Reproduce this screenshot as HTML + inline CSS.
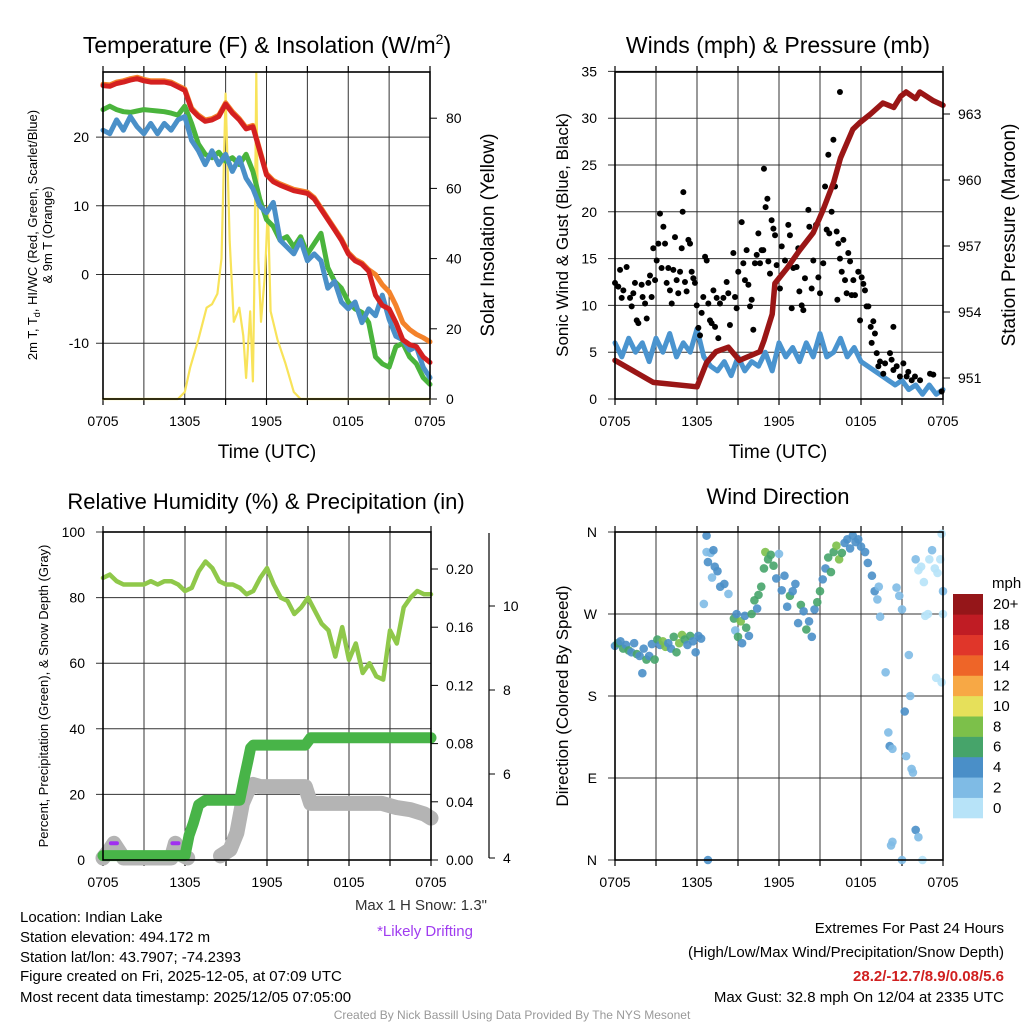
<!DOCTYPE html>
<html><head><meta charset="utf-8"><style>
html,body{margin:0;padding:0;background:#fff}
svg{display:block;font-family:"Liberation Sans",Arial,sans-serif}
</style></head><body>
<svg id="chart" width="1024" height="1024" viewBox="0 0 1024 1024" xmlns="http://www.w3.org/2000/svg">
<g id="layer"></g>
<g font-size="15" fill="#000">
<text x="20" y="922">Location: Indian Lake</text>
<text x="20" y="942">Station elevation: 494.172 m</text>
<text x="20" y="962">Station lat/lon: 43.7907; -74.2393</text>
<text x="20" y="981">Figure created on Fri, 2025-12-05, at 07:09 UTC</text>
<text x="20" y="1002">Most recent data timestamp: 2025/12/05 07:05:00</text>
<text x="487" y="910" text-anchor="end" fill="#333">Max 1 H Snow: 1.3"</text>
<text x="425" y="936" text-anchor="middle" fill="#a03cf0">*Likely Drifting</text>
<text x="1004" y="933" text-anchor="end">Extremes For Past 24 Hours</text>
<text x="1004" y="957" text-anchor="end">(High/Low/Max Wind/Precipitation/Snow Depth)</text>
<text x="1004" y="981" text-anchor="end" fill="#d02020" font-weight="bold">28.2/-12.7/8.9/0.08/5.6</text>
<text x="1004" y="1002" text-anchor="end">Max Gust: 32.8 mph On 12/04 at 2335 UTC</text>
<text x="512" y="1019" text-anchor="middle" fill="#999" font-size="12">Created By Nick Bassill Using Data Provided By The NYS Mesonet</text>
</g>
</svg>
<script>
// ---------- data ----------
const xTickHours=[0,6,12,18,24];
const xTickLabels=["0705","1305","1905","0105","0705"];
const tempRed=[27.5,27.4,27.8,28,28.3,28.5,28.2,28,28,28,27.8,27.3,26.8,24,23,22.3,22.5,23,24.8,23.5,22.5,21.2,21.5,18,14.5,13.5,13,12.6,12.2,12,11.8,11,9.5,8,6.5,5,3,2,1.5,0.5,-3,-4.5,-5,-7,-9.5,-10.2,-10.5,-12,-12.8];
const tempOrange=[27.7,27.6,28,28.2,28.5,28.7,28.4,28.2,28.2,28.2,28,27.5,27,24.2,23.2,22.5,22.7,23.2,25,23.7,22.7,21.4,21.7,18.2,14.7,13.7,13.2,12.8,12.4,12.2,12,11.2,9.7,8.2,6.7,5.2,3.2,2.2,1.7,0.7,0,-1.5,-2.5,-4.5,-7,-8,-8.7,-9.2,-9.8];
const tempGreen=[24,24.5,24,23.7,23.6,23.8,24,23.9,23.8,23.7,23.5,23.2,24.5,22,19,17.5,17,17.8,16.5,17,16,17.5,15,11,8,7,5,5.5,4,5.5,3,4.5,6,1,-1,-2,-4,-5,-5.5,-7,-12,-13,-13.5,-10.5,-10,-12,-13,-15,-16];
const tempBlue=[21,20.5,22.5,21,23,21.5,20.5,22,20.5,22,21,22.5,23,19.5,18,16,18,16,17.5,15,17,14,12.5,10,9,10.5,5,4,3,5,2,3,2,-2,-1,-4,-5,-4,-7,-5,-6,-3,-6.5,-9,-9.5,-11,-10.5,-13.5,-15];
const solarHours=[0,5.5,6.0,6.4,7.0,7.6,8.0,8.4,8.7,9.0,9.3,9.6,10.0,10.3,10.5,10.8,11.0,11.1,11.25,11.4,11.6,11.9,12.1,12.3,12.8,13.4,14.0,14.5,24];
const solarValues=[0,0,2,9,17,26,27,30,40,87,45,22,26,18,6,25,5,30,93,40,22,36,55,25,17,10,2,0,0];
const sonicWind=[6,4.5,6.5,5,6,4,6.5,5,7,4.5,6,5,7.5,4.5,3.5,3,4,2.5,4.5,3,4,3.5,5,3,6,4.5,5.5,4,6,4.5,7,4.5,5,6.5,4.5,5.5,4,3.5,3,2.5,2,1.5,2,1,1.5,0.5,1.5,0.5,1];
const pressureHours=[0,2.8,6.0,6.7,7.4,8.3,9.1,10.6,10.9,11.5,11.7,12.6,13.5,14.5,15.2,16.0,16.5,17.4,17.9,18.7,19.6,20.4,20.9,21.3,22.0,22.3,23.3,24];
const pressureValues=[951.8,950.8,950.6,951.7,952.2,952.4,951.8,952.2,952.7,953.9,955.3,956.0,956.8,957.6,958.6,959.9,961.0,962.3,962.6,963.0,963.5,963.3,963.8,964.0,963.7,964.0,963.6,963.4];
const gustHours=[0,.24,.37,.61,.49,.85,1.1,1.22,1.34,1.46,1.59,1.71,1.95,2.02,2.2,2.32,2.44,2.56,2.68,2.8,2.93,3.05,3.17,3.29,3.41,3.54,3.66,3.78,3.9,4.02,4.15,4.27,4.39,4.51,4.63,4.76,4.88,4.95,5.0,5.12,5.24,5.37,5.49,5.61,5.73,5.85,5.98,6.1,6.22,6.34,6.46,6.59,6.71,6.83,6.95,7.07,7.2,7.32,7.44,7.56,7.68,7.93,8.17,8.29,8.41,8.66,8.78,8.9,9.02,9.27,9.39,9.51,9.63,9.76,9.88,10.0,10.12,10.24,10.37,10.49,10.61,10.73,10.85,10.9,11.02,11.15,11.22,11.34,11.46,11.59,11.71,11.83,12.07,12.2,12.44,12.68,12.8,12.93,13.05,13.29,13.41,13.49,13.66,13.78,13.9,14.15,14.22,14.39,14.51,14.71,14.88,15.0,15.24,15.37,15.49,15.61,15.68,15.85,15.98,16.1,16.22,16.27,16.34,16.46,16.46,16.59,16.71,16.83,16.95,17.07,17.2,17.32,17.44,17.56,17.8,17.93,18.05,18.17,18.29,18.41,18.54,18.71,18.78,18.9,19.02,19.15,19.27,19.39,19.63,19.76,20.12,20.24,20.37,20.37,20.61,20.85,21.1,21.34,21.46,21.71,21.95,22.32,23.05,23.29,23.9];
const gustValues=[12.4,12.0,13.8,11.6,10.8,14.1,10.8,9.9,11.3,12.4,8.4,8.1,12.2,10.9,10.2,8.6,12.4,13.2,10.9,16.1,12.7,14.8,16.6,19.8,14.0,18.4,16.6,12.4,14.0,11.6,10.2,13.8,17.3,12.7,11.3,13.6,16.1,20.0,22.1,12.5,11.5,17.0,16.6,13.6,12.9,12.4,10.0,7.6,6.8,9.2,10.9,15.2,14.8,10.2,8.4,8.1,11.6,7.7,10.8,6.5,10.2,10.8,12.5,11.3,7.9,15.6,10.9,9.7,13.6,18.9,14.5,12.7,15.9,12.2,9.9,10.6,7.4,14.5,15.4,17.7,14.5,15.9,15.9,24.6,20.5,21.4,14.7,13.4,19.1,18.2,17.5,14.3,11.8,16.3,14.8,18.6,17.5,9.7,14.0,14.1,16.1,11.5,10.0,9.5,12.9,20.2,18.4,11.8,14.8,18.6,13.0,11.3,14.5,22.7,18.1,26.1,17.7,20.0,27.7,22.7,17.9,10.6,16.6,32.8,15.0,13.6,17.0,12.7,11.3,15.6,14.7,11.1,12.7,11.1,13.6,8.4,13.0,12.3,11.6,9.9,9.9,7.7,6.0,8.3,7.0,4.9,3.5,4.0,2.7,3.8,4.9,4.2,7.7,3.1,3.5,2.4,3.8,2.4,2.9,2.0,2.4,2.0,2.7,2.6,0.8];
const rhValues=[86,87,85,84,84,84,84,85,84,85,85,84,82,83,88,91,89,85,84,84,83,81,82,86,89,84,80,79,75,77,80,76,72,70,62,71,61,66,57,60,56,55,70,66,77,80,82,81,81];
const precipHours=[0,6.0,6.3,6.6,7.0,7.5,10.0,10.3,10.6,10.8,11.0,14.8,15.2,24];
const precipValues=[0.003,0.003,0.017,0.025,0.038,0.041,0.041,0.055,0.068,0.077,0.079,0.079,0.084,0.084];
const snowHoursA=[0,0.5,0.8,1.1,1.5,5.0,5.3,5.6,6.2];
const snowValuesA=[4.0,4.2,4.35,4.2,4.0,4.0,4.35,4.1,4.0];
const snowHoursB=[8.6,9.3,9.8,10.2,10.6,11.0,11.5,14.8,15.2,20.4,21.5,22.5,23.5,24];
const snowValuesB=[4.05,4.2,4.6,5.3,5.6,5.75,5.7,5.7,5.3,5.3,5.2,5.15,5.05,4.95];
const driftHours=[0.8,5.3];
const driftValues=[4.35,4.35];
const dirHours=[0,0.2,0.4,0.6,0.8,1.0,1.2,1.4,1.6,1.8,2.0,2.1,2.3,2.5,2.7,2.9,3.1,3.3,3.5,3.7,3.9,4.1,4.3,4.5,4.7,4.9,5.1,5.3,5.5,5.7,5.9,6.1,6.3,6.5,6.7,6.7,6.8,6.8,7.0,7.2,7.3,7.1,7.5,7.7,8.0,8.3,8.7,8.8,8.9,9.0,9.2,9.3,9.5,9.6,9.8,10.0,10.2,10.4,10.5,10.7,10.9,11.0,11.2,11.4,11.6,11.8,12.0,12.2,12.4,12.6,12.8,13.0,13.2,13.4,13.6,13.8,14.0,14.2,14.4,14.6,14.8,15.0,15.2,15.4,15.6,15.8,16.0,16.2,16.4,16.6,16.8,17.0,17.2,17.4,17.6,17.8,18.0,18.3,18.5,18.8,19.0,19.2,19.4,19.8,20.0,20.1,20.3,20.2,20.3,20.6,20.8,21.0,21.2,21.3,21.5,21.6,21.8,21.7,22.0,22.2,22.4,22.6,22.7,22.9,23.0,23.2,23.4,23.6,23.8,23.9,24,24,22.0,22.2,22.5,23.5,23.9,21.0,19.3];
const dirValues=[235,238,240,232,236,230,228,238,226,224,205,232,220,224,237,220,242,236,240,234,238,232,245,228,238,247,242,236,246,240,228,246,243,281,356,338,327,0,337,340,322,310,317,300,303,292,265,252,270,245,262,238,268,255,246,270,285,276,291,300,320,338,330,335,323,309,336,296,312,278,290,295,303,260,280,273,253,262,245,275,283,295,308,320,332,316,338,345,330,337,348,352,342,356,349,352,344,338,326,312,295,286,267,206,140,125,122,16,20,299,290,275,163,114,225,180,96,100,330,318,322,305,268,270,330,340,320,315,330,358,270,295,33,25,0,200,195,0,300];
const dirSpeeds=[5,6,4,6,5,6,5,4,6,5,4,4,6,4,4,7,6,5,8,8,4,4,6,6,8,8,6,4,6,4,4,4,4,3,4,2,4,4,2,4,4,2,4,4,4,2,6,2,4,6,8,4,4,6,4,6,6,4,6,6,6,8,6,6,6,4,2,4,4,4,6,4,4,4,6,4,6,4,4,4,6,6,4,4,6,6,6,8,8,6,4,4,4,4,4,4,4,4,4,4,4,3,3,3,3,4,3,2,2,3,3,2,4,3,2,2,2,3,2,1,1,1,1,1,1,2,1,1,1,1,1,2,4,3,1,1,1,2,3];
const speedBins=[0,2,4,6,8,10,12,14,16,18,20];
const speedBinLabels=["0","2","4","6","8","10","12","14","16","18","20+"];
const speedColors=["#b7e3f8","#7fbbe5","#4a8fc8","#46a46a","#7cc04a","#e6e05a","#f7a845","#ee6528","#e0362a","#c01c24","#951619"];

// ---------- drawing ----------
const NS="http://www.w3.org/2000/svg";
const layer=document.getElementById('layer');
function el(tag,attrs,parent){const e=document.createElementNS(NS,tag);for(const k in attrs)e.setAttribute(k,attrs[k]);(parent||layer).appendChild(e);return e;}
function txt(x,y,s,attrs,parent){const t=el('text',Object.assign({x:x,y:y},attrs||{}),parent);t.textContent=s;return t;}
function linePath(ts,vs,sx,sy){let d='';for(let i=0;i<ts.length;i++){d+=(i?'L':'M')+sx(ts[i]).toFixed(1)+','+sy(vs[i]).toFixed(1);}return d;}
function halfHours(n){const a=[];for(let i=0;i<n;i++)a.push(i*0.5);return a;}

function frame(x0,x1,y0,y1,g){
  for(let h=0;h<=24;h+=3){const x=x0+(x1-x0)*h/24;const l=el('line',{x1:x,x2:x,y1:y0,y2:y1,stroke:'#333','stroke-width':1},g);
    const tk=el('line',{x1:x,x2:x,y1:y0-6,y2:y0,stroke:'#000','stroke-width':1.2},g);
    const tb=el('line',{x1:x,x2:x,y1:y1,y2:y1+6,stroke:'#000','stroke-width':1.2},g);}
  xTickHours.forEach((h,i)=>{const x=x0+(x1-x0)*h/24;const t=txt(x,y1+27,xTickLabels[i],{'font-size':14,'text-anchor':'middle'},g);});
}
function hgrid(x0,x1,y,g){const l=el('line',{x1:x0-7,x2:x1,y1:y,y2:y,stroke:'#333','stroke-width':1},g);}
function box(x0,x1,y0,y1,g){const r=el('rect',{x:x0,y:y0,width:x1-x0,height:y1-y0,fill:'none',stroke:'#000','stroke-width':1.6},g);}
function rotText(x,y,s,size,g,name){const t=txt(x,y,s,{'font-size':size,'text-anchor':'middle',transform:'rotate(-90 '+x+' '+y+')'},g);return t;}
function path(d,stroke,w,g,name){const p=el('path',{d:d,fill:'none',stroke:stroke,'stroke-width':w,'stroke-linejoin':'round','stroke-linecap':'round'},g);return p;}

// Panel 1: temperature
(function(){
  const g=el('g',{});
  const x0=103,x1=430,y0=72,y1=399;
  const sx=h=>x0+(x1-x0)*h/24, sy=v=>274.5-6.87*v, sr=v=>399-3.51*v;
  frame(x0,x1,y0,y1,g);
  [20,10,0,-10].forEach(v=>{hgrid(x0,x1,sy(v),g);const t=txt(x0-14,sy(v)+5,String(v),{'font-size':14,'text-anchor':'end'},g);});
  [0,20,40,60,80].forEach(v=>{const tk=el('line',{x1:x1,x2:x1+7,y1:sr(v),y2:sr(v),stroke:'#000'},g);const t=txt(x1+16,sr(v)+5,String(v),{'font-size':14},g);});
  const tt=halfHours(49);
  path(linePath(solarHours,solarValues,sx,sr),'#f8e35a',2.2,g,'insolation-line');
  path(linePath(tt,tempGreen,sx,sy),'#4ab43c',5,g,'dewpoint-line');
  path(linePath(tt,tempBlue,sx,sy),'#4a90c8',5,g,'windchill-line');
  path(linePath(tt,tempOrange,sx,sy),'#f4822a',5,g,'temp-9m-line');
  path(linePath(tt,tempRed,sx,sy),'#d42020',5,g,'temp-2m-line');
  box(x0,x1,y0,y1,g);
  const ti=txt(267,53,'Temperature (F) & Insolation (W/m',{'font-size':23,'text-anchor':'middle'},g);
  const sup=el('tspan',{'font-size':14,dy:-9},ti);sup.textContent='2';const cl=el('tspan',{dy:9},ti);cl.textContent=')';
  
  const xt=txt(267,458,'Time (UTC)',{'font-size':19,'text-anchor':'middle'},g);
  rotText(494,235,'Solar Insolation (Yellow)',19,g,'right-axis-title');
  rotText(37,235,'2m T, T',13,g,'left-axis-title');
  const lt=g.lastChild;const sb=el('tspan',{'font-size':9,dy:3},lt);sb.textContent='d';const rest=el('tspan',{dy:-3},lt);rest.textContent=', HI/WC (Red, Green, Scarlet/Blue)';
  rotText(52,235,'& 9m T (Orange)',13,g,'left-axis-title-line2');
})();

// Panel 2: winds
(function(){
  const g=el('g',{});
  const x0=615,x1=943,y0=72,y1=399;
  const sx=h=>x0+(x1-x0)*h/24, sy=v=>399-9.36*v, sp=p=>378-22*(p-951);
  frame(x0,x1,y0,y1,g);
  [0,5,10,15,20,25,30,35].forEach(v=>{hgrid(x0,x1,sy(v),g);const t=txt(x0-18,sy(v)+5,String(v),{'font-size':14,'text-anchor':'end'},g);});
  [951,954,957,960,963].forEach(v=>{const tk=el('line',{x1:x1,x2:x1+7,y1:sp(v),y2:sp(v),stroke:'#000'},g);const t=txt(x1+15,sp(v)+5,String(v),{'font-size':14},g);});
  path(linePath(halfHours(49),sonicWind,sx,sy),'#4a94cf',5,g,'sonic-wind-line');
  for(let i=0;i<gustHours.length;i++){const c=el('circle',{cx:sx(gustHours[i]),cy:sy(gustValues[i]),r:3,fill:'#000'},g);}
  path(linePath(pressureHours,pressureValues,sx,sp),'#9a1616',5.5,g,'pressure-line');
  box(x0,x1,y0,y1,g);
  const ti=txt(778,53,'Winds (mph) & Pressure (mb)',{'font-size':23,'text-anchor':'middle'},g);
  const xt=txt(778,458,'Time (UTC)',{'font-size':19,'text-anchor':'middle'},g);
  rotText(568,235,'Sonic Wind & Gust (Blue, Black)',17,g,'left-axis-title');
  rotText(1015,235,'Station Pressure (Maroon)',19,g,'right-axis-title');
})();

// Panel 3: RH & precip
(function(){
  const g=el('g',{});
  const x0=103,x1=431,y0=532,y1=860;
  const sx=h=>x0+(x1-x0)*h/24, sy=v=>860-3.28*v, spr=v=>860-1455*v, ss=v=>858-42*(v-4);
  frame(x0,x1,y0,y1,g);
  [0,20,40,60,80,100].forEach(v=>{hgrid(x0,x1,sy(v),g);const t=txt(x0-18,sy(v)+5,String(v),{'font-size':14,'text-anchor':'end'},g);});
  [0,0.04,0.08,0.12,0.16,0.2].forEach(v=>{const tk=el('line',{x1:x1,x2:x1+7,y1:spr(v),y2:spr(v),stroke:'#000'},g);const t=txt(x1+15,spr(v)+5,v.toFixed(2),{'font-size':14},g);});
  const ax=el('line',{x1:489,x2:489,y1:533,y2:858,stroke:'#000','stroke-width':1.2},g);
  [4,6,8,10].forEach(v=>{const tk=el('line',{x1:489,x2:495,y1:ss(v),y2:ss(v),stroke:'#000'},g);const t=txt(503,ss(v)+5,String(v),{'font-size':14},g);});
  path(linePath(snowHoursA,snowValuesA,sx,ss),'#b4b4b4',15,g,'snow-depth-line');
  path(linePath(snowHoursB,snowValuesB,sx,ss),'#b4b4b4',15,g,'snow-depth-line');
  for(let i=0;i<driftHours.length;i++){const d=el('line',{x1:sx(driftHours[i])-3,x2:sx(driftHours[i])+3,y1:ss(driftValues[i]),y2:ss(driftValues[i]),stroke:'#a030f0','stroke-width':4,'stroke-linecap':'round'},g);}
  path(linePath(precipHours,precipValues,sx,spr),'#48b448',11,g,'precip-line');
  path(linePath(halfHours(49),rhValues,sx,sy),'#8fc84a',4.5,g,'rh-line');
  box(x0,x1,y0,y1,g);
  const ti=txt(266,509,'Relative Humidity (%) & Precipitation (in)',{'font-size':22,'text-anchor':'middle'},g);
  rotText(48,696,'Percent, Precipitation (Green), & Snow Depth (Gray)',13,g,'left-axis-title');
})();

// Panel 4: wind direction
(function(){
  const g=el('g',{});
  const x0=615,x1=943,y0=532,y1=860;
  const sx=h=>x0+(x1-x0)*h/24, sy=d=>860-(y1-y0)*d/360;
  frame(x0,x1,y0,y1,g);
  const dl=['N','E','S','W','N'];
  [0,90,180,270,360].forEach((v,i)=>{hgrid(x0,x1,sy(v),g);const t=txt(x0-18,sy(v)+5,dl[i],{'font-size':14,'text-anchor':'end'},g);});
  function col(s){let k=0;for(let i=0;i<speedBins.length;i++)if(s>=speedBins[i])k=i;return speedColors[k];}
  for(let i=0;i<dirHours.length;i++){const c=el('circle',{cx:sx(dirHours[i]),cy:sy(dirValues[i]),r:4.3,fill:col(dirSpeeds[i]),'fill-opacity':0.9},g);}
  box(x0,x1,y0,y1,g);
  const ti=txt(778,504,'Wind Direction',{'font-size':22,'text-anchor':'middle'},g);
  rotText(568,696,'Direction (Colored By Speed)',17,g,'left-axis-title');
  const cb=el('g',{},g);
  const bh=224/speedColors.length;
  speedColors.forEach((c,i)=>{const y=818-(i+1)*bh;const r=el('rect',{x:953,y:y,width:30,height:bh+0.3,fill:c},cb);
    const t=txt(993,y+bh/2+5,speedBinLabels[i],{'font-size':15},cb);});
  const u=txt(992,588,'mph',{'font-size':15},cb);
})();
</script>
</body></html>
